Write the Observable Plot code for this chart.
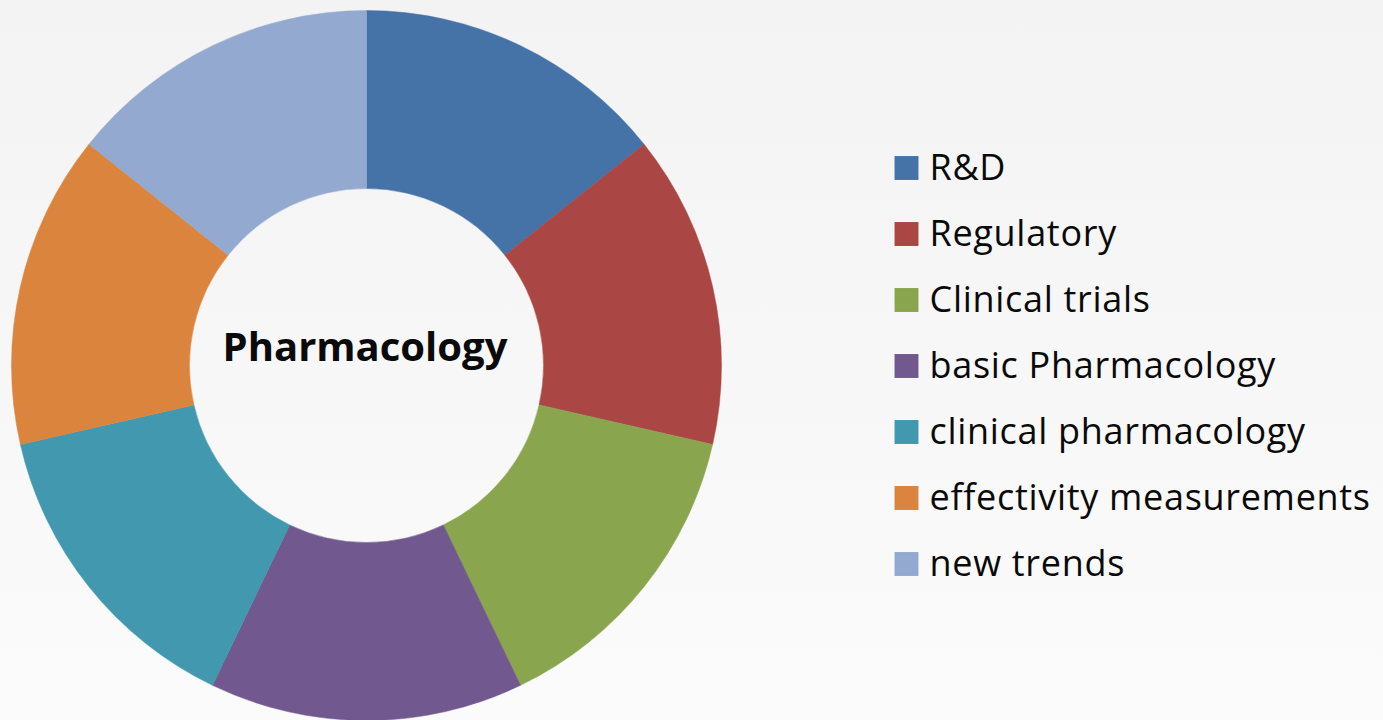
<!DOCTYPE html>
<html><head><meta charset="utf-8">
<script src="https://cdn.jsdelivr.net/npm/d3@7"></script>
<script src="https://cdn.jsdelivr.net/npm/@observablehq/plot@0.6"></script>
<style>
html,body{margin:0;padding:0;width:1383px;height:720px;overflow:hidden;background:linear-gradient(#f3f3f3,#fbfbfb);}
#chart svg{display:block;}
#chart svg > g[aria-label="text"]:last-of-type text{letter-spacing:0.7px;}
</style></head><body><div id="chart"></div>
<script>
const categories = ["R&D","Regulatory","Clinical trials","basic Pharmacology","clinical pharmacology","effectivity measurements","new trends"];
const values = [1,1,1,1,1,1,1];
const colors = ["#4572A7","#AA4643","#89A54E","#71588F","#4198AF","#DB843D","#93A9CF"];
const centerLabel = "Pharmacology";

const W = 1383, H = 720;
const cx = 366.5, cy = 365.5, rOuter = 355, rInner = 177;
const legendX = 906, legendTextX = 929, legendY0 = 167.5, legendStep = 66;

const table = categories.map((c, i) => ({category: c, value: values[i]}));
const pieData = d3.pie().sort(null).value(d => d.value)(table);

const arcMark = Plot.dot(pieData, {
  x: () => cx, y: () => cy, fill: d => d.data.category,
  render(index, scales, vals) {
    const arc = d3.arc().innerRadius(rInner).outerRadius(rOuter);
    const g = d3.create("svg:g");
    g.selectAll("path").data(index).join("path")
      .attr("transform", i => `translate(${vals.x[i]},${vals.y[i]})`)
      .attr("d", i => arc(pieData[i]))
      .attr("fill", i => vals.fill[i])
      .attr("stroke", i => vals.fill[i])
      .attr("stroke-width", 0.5);
    return g.node();
  }
});

const chart = Plot.plot({
  width: W, height: H, margin: 0,
  style: {background: "transparent", fontFamily: "'Open Sans', Lato, sans-serif"},
  x: {domain: [0, W], range: [0, W], axis: null},
  y: {domain: [0, H], range: [0, H], axis: null},
  color: {domain: categories, range: colors},
  marks: [
    arcMark,
    Plot.text([centerLabel], {x: () => cx - 2, y: () => 348, text: d => d, fontSize: 40, fontWeight: "bold", fill: "#0a0a0a"}),
    Plot.dot(categories, {x: () => legendX, y: (d, i) => legendY0 + legendStep * i, symbol: "square", r: 13.5, fill: d => d}),
    Plot.text(categories, {x: () => legendTextX, y: (d, i) => legendY0 + legendStep * i, text: d => d, textAnchor: "start", fontSize: 36, fill: "#0a0a0a"})
  ]
});
document.getElementById("chart").appendChild(chart);
</script></body></html>
